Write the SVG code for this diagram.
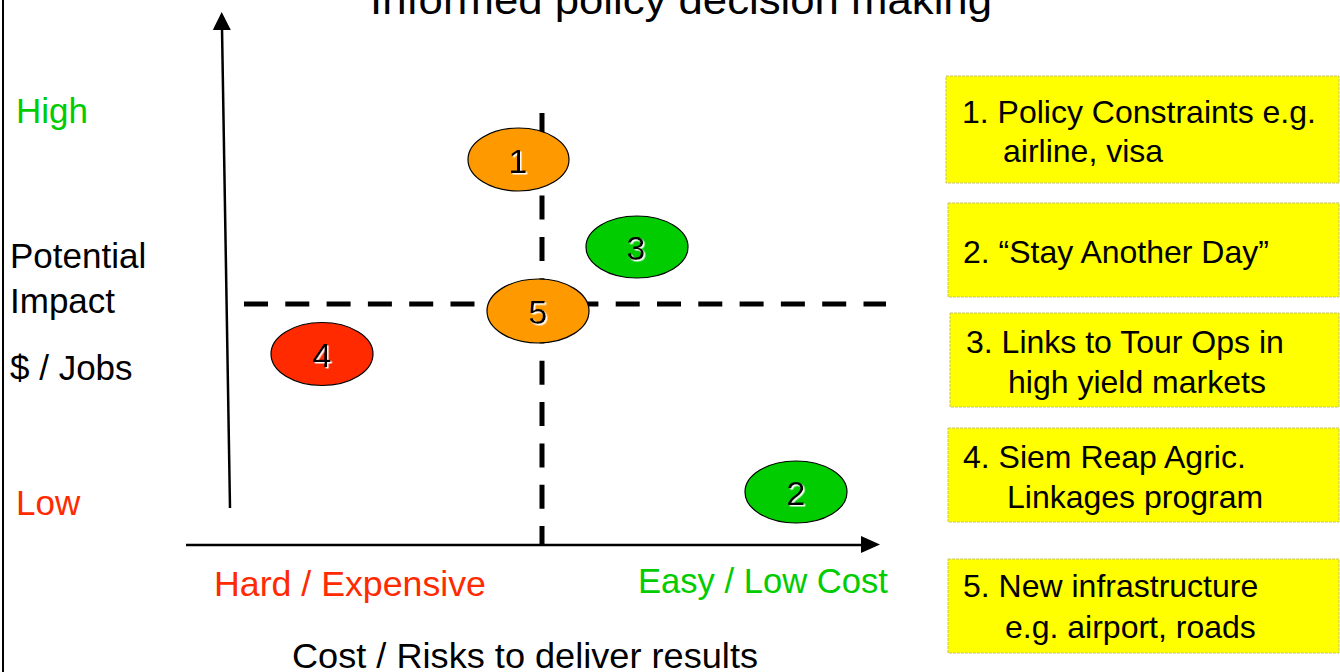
<svg xmlns="http://www.w3.org/2000/svg" width="1340" height="672" viewBox="0 0 1340 672">
<style>
  text { font-family: "Liberation Sans", Arial, sans-serif; }
  .lbl { font-size: 35px; fill: #000; }
  .box rect { fill: #FFFF00; stroke: #C8C46A; stroke-width: 1; stroke-dasharray: 3 1; }
  .box text { font-size: 32px; fill: #000; }
  .bub ellipse { stroke: #000; stroke-width: 1.2; }
  .bub text { font-size: 34px; fill: #000; text-anchor: middle; filter: url(#ws); }
  .dash { stroke: #000; stroke-width: 5; stroke-dasharray: 24 17.3; fill: none; }
  .axis { stroke: #000; stroke-width: 2.5; fill: none; }
</style>
<defs>
  <filter id="ws" x="-20%" y="-20%" width="150%" height="150%">
    <feDropShadow dx="1.5" dy="1.5" stdDeviation="0" flood-color="#ffffff"/>
  </filter>
</defs>
<rect x="0" y="0" width="1340" height="672" fill="#ffffff"/>
<line x1="3" y1="0" x2="3" y2="672" stroke="#000" stroke-width="2"/>

<text id="title" x="370" y="14" font-size="40" textLength="622" lengthAdjust="spacingAndGlyphs" fill="#000">Informed policy decision making</text>

<g id="connectors">
  <line class="axis" x1="230" y1="508" x2="222" y2="28"/>
  <polygon points="221.7,12 212.8,30 230.8,30" fill="#000"/>
  <line class="axis" x1="186" y1="545" x2="864" y2="545"/>
  <polygon points="880,544.5 861,536 861,553" fill="#000"/>
  <line class="dash" x1="542" y1="113" x2="542" y2="546"/>
  <line class="dash" x1="244" y1="304" x2="886" y2="304"/>
</g>

<g id="axis-labels">
  <text class="lbl" x="16" y="123" fill="#00CC00" style="fill:#00CC00">High</text>
  <text class="lbl" x="10" y="268">Potential</text>
  <text class="lbl" x="10" y="313">Impact</text>
  <text class="lbl" x="10" y="380">$ / Jobs</text>
  <text class="lbl" x="16" y="515" style="fill:#FF2A00">Low</text>
  <text class="lbl" x="214" y="596" style="fill:#FF2A00" textLength="272" lengthAdjust="spacingAndGlyphs">Hard / Expensive</text>
  <text class="lbl" x="638" y="593" style="fill:#00CC00" textLength="250" lengthAdjust="spacingAndGlyphs">Easy / Low Cost</text>
  <text class="lbl" x="292" y="668" textLength="466" lengthAdjust="spacingAndGlyphs">Cost / Risks to deliver results</text>
</g>

<g id="node-1" class="bub"><ellipse cx="518.5" cy="159.5" rx="50.5" ry="31.5" fill="#FF9900"/><text x="518" y="173">1</text></g>
<g id="node-3" class="bub"><ellipse cx="637" cy="247" rx="51" ry="31" fill="#00CC00"/><text x="636" y="260">3</text></g>
<g id="node-5" class="bub"><ellipse cx="538" cy="311" rx="51" ry="32" fill="#FF9900"/><text x="538" y="324">5</text></g>
<g id="node-4" class="bub"><ellipse cx="322" cy="354" rx="51" ry="31.5" fill="#FF2A00"/><text x="322" y="367">4</text></g>
<g id="node-2" class="bub"><ellipse cx="796" cy="492" rx="51" ry="31" fill="#00CC00"/><text x="796" y="505">2</text></g>

<g id="box-1" class="box"><rect x="946" y="76" width="393" height="107"/>
  <text x="962" y="123">1. Policy Constraints e.g.</text>
  <text x="1003" y="162">airline, visa</text></g>
<g id="box-2" class="box"><rect x="948" y="203" width="391" height="94"/>
  <text x="963" y="263">2. “Stay Another Day”</text></g>
<g id="box-3" class="box"><rect x="950" y="313" width="389" height="94"/>
  <text x="966" y="353">3. Links to Tour Ops in</text>
  <text x="1008" y="393">high yield markets</text></g>
<g id="box-4" class="box"><rect x="948" y="428" width="391" height="94"/>
  <text x="963" y="468">4. Siem Reap Agric.</text>
  <text x="1007" y="508">Linkages program</text></g>
<g id="box-5" class="box"><rect x="948" y="559" width="391" height="94"/>
  <text x="963" y="597">5. New infrastructure</text>
  <text x="1005" y="638">e.g. airport, roads</text></g>
</svg>
